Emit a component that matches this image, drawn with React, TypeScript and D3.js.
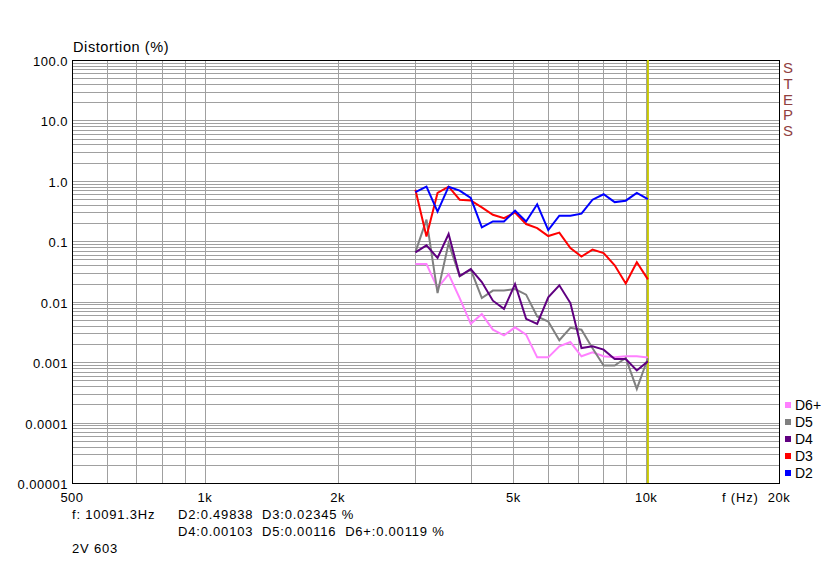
import React from "react";
import * as d3 from "d3";

const freqs = [3000, 3178.4, 3367.4, 3567.6, 3779.8, 4004.5, 4242.6, 4494.9, 4762.2, 5045.4, 5345.4, 5663.3, 6000, 6356.8, 6734.8, 7135.2, 7559.5, 8009.0, 8485.3, 8989.9, 9524.6, 10091.3];
const d2 = [0.65, 0.8, 0.31, 0.8, 0.69, 0.52, 0.17, 0.213, 0.213, 0.32, 0.213, 0.41, 0.153, 0.265, 0.265, 0.286, 0.488, 0.6, 0.445, 0.47, 0.63, 0.49838];
const d3v = [0.71, 0.12, 0.63, 0.8, 0.488, 0.475, 0.364, 0.275, 0.242, 0.3, 0.193, 0.165, 0.122, 0.139, 0.077, 0.056, 0.073, 0.064, 0.04, 0.02, 0.045, 0.02345];
const d4 = [0.0656, 0.0856, 0.053, 0.132, 0.0266, 0.0347, 0.0212, 0.0104, 0.0076, 0.0196, 0.0052, 0.0043, 0.0118, 0.0187, 0.0095, 0.00171, 0.00183, 0.00161, 0.00113, 0.00113, 0.00073, 0.00103];
const d5 = [0.066, 0.228, 0.0139, 0.093, 0.0263, 0.034, 0.0115, 0.0153, 0.0154, 0.0162, 0.0131, 0.0057, 0.0047, 0.0023, 0.0037, 0.00345, 0.0017, 0.00088, 0.00088, 0.00117, 0.00036, 0.00116];
const d6 = [0.042, 0.042, 0.0168, 0.0287, 0.0115, 0.0043, 0.00625, 0.00345, 0.00278, 0.00377, 0.00286, 0.0012, 0.0012, 0.00183, 0.00215, 0.00125, 0.00146, 0.00125, 0.0012, 0.00125, 0.00125, 0.00119];

const seriesNames = ["D6+", "D5", "D4", "D3", "D2"];
const seriesColors = ["#ff80ff", "#808080", "#600080", "#ff0000", "#0000ff"];
const seriesData = [d6, d5, d4, d3v, d2];

const yTicks = [100, 10, 1, 0.1, 0.01, 0.001, 0.0001, 0.00001];
const yTickLabels = ["100.0", "10.0", "1.0", "0.1", "0.01", "0.001", "0.0001", "0.00001"];
const xTicks = [500, 1000, 2000, 5000, 10000, 20000];
const xTickLabels = ["500", "1k", "2k", "5k", "10k", "20k"];
const xGrid = [600, 700, 800, 900, 1000, 2000, 3000, 4000, 5000, 6000, 7000, 8000, 9000, 10000];
const cursorFreq = 10091.3;

const W = 839, H = 563;
const L = 72, R = 779, T = 60, B = 483;
const FONT = "'Liberation Sans', Arial, sans-serif";

export default function App() {
  const x = d3.scaleLog().domain([500, 20000]).range([L, R]);
  const y = d3.scaleLog().domain([0.00001, 100]).range([B, T]);
  const hGrid: number[] = [];
  for (let e = -5; e < 2; e++) {
    for (let k = 1; k <= 9; k++) hGrid.push(k * Math.pow(10, e));
  }
  const line = d3.line<number>().x((_, i) => x(freqs[i])).y((v) => y(v));
  const stepLetters = ["S", "T", "E", "P", "S"];
  const ls = 0.8;
  return (
    <svg width={W} height={H} style={{ position: "absolute", left: 0, top: 0, background: "#fff" }} fontFamily={FONT}>
      <rect x={0} y={0} width={W} height={H} fill="#fff" />
      {hGrid.map((v, i) => (
        <line key={"h" + i} x1={L} x2={R} y1={Math.round(y(v)) + 0.5} y2={Math.round(y(v)) + 0.5} stroke="#a0a0a0" strokeWidth={1} />
      ))}
      {xGrid.map((f, i) => (
        <line key={"v" + i} x1={Math.round(x(f)) + 0.5} x2={Math.round(x(f)) + 0.5} y1={T} y2={B} stroke="#a0a0a0" strokeWidth={1} />
      ))}
      <rect x={L + 0.5} y={T + 0.5} width={R - L} height={B - T} fill="none" stroke="#000" strokeWidth={1} />
      <line x1={x(cursorFreq)} x2={x(cursorFreq)} y1={T} y2={B} stroke="#c8c800" strokeWidth={2} />
      {seriesData.map((s, i) => (
        <path key={"s" + i} d={line(s) || ""} fill="none" stroke={seriesColors[i]} strokeWidth={2} strokeLinejoin="miter" />
      ))}
      <text x={73} y={52} fontSize={14.5} letterSpacing={0.6} fill="#000">Distortion (%)</text>
      {yTicks.map((v, i) => (
        <text key={"yt" + i} x={68} y={y(v) + 6} fontSize={13} letterSpacing={0.5} textAnchor="end" fill="#000">{yTickLabels[i]}</text>
      ))}
      {xTicks.map((f, i) => (
        <text key={"xt" + i} x={x(f)} y={502} fontSize={13} letterSpacing={0.5} textAnchor="middle" fill="#000">{xTickLabels[i]}</text>
      ))}
      <text x={722} y={502} fontSize={13} letterSpacing={ls} fill="#000" style={{ whiteSpace: "pre" }}>{"f (Hz)"}</text>
      <text x={72} y={519} fontSize={13} letterSpacing={ls} fill="#000" style={{ whiteSpace: "pre" }}>{"f: 10091.3Hz"}</text>
      <text x={178} y={519} fontSize={13} letterSpacing={ls} fill="#000" style={{ whiteSpace: "pre" }}>{"D2:0.49838  D3:0.02345 %"}</text>
      <text x={178} y={536} fontSize={13} letterSpacing={ls} fill="#000" style={{ whiteSpace: "pre" }}>{"D4:0.00103  D5:0.00116  D6+:0.00119 %"}</text>
      <text x={72} y={553} fontSize={13} letterSpacing={ls} fill="#000" style={{ whiteSpace: "pre" }}>{"2V 603"}</text>
      {seriesNames.map((n, i) => (
        <g key={"lg" + i}>
          <rect x={785} y={402 + i * 17} width={6} height={6} fill={seriesColors[i]} />
          <text x={795} y={410 + i * 17} fontSize={14} fill="#000">{n}</text>
        </g>
      ))}
      {stepLetters.map((c, i) => (
        <text key={"st" + i} x={788} y={73 + i * 15.8} fontSize={15} textAnchor="middle" fill="#904040" fontWeight={300}>{c}</text>
      ))}
    </svg>
  );
}
